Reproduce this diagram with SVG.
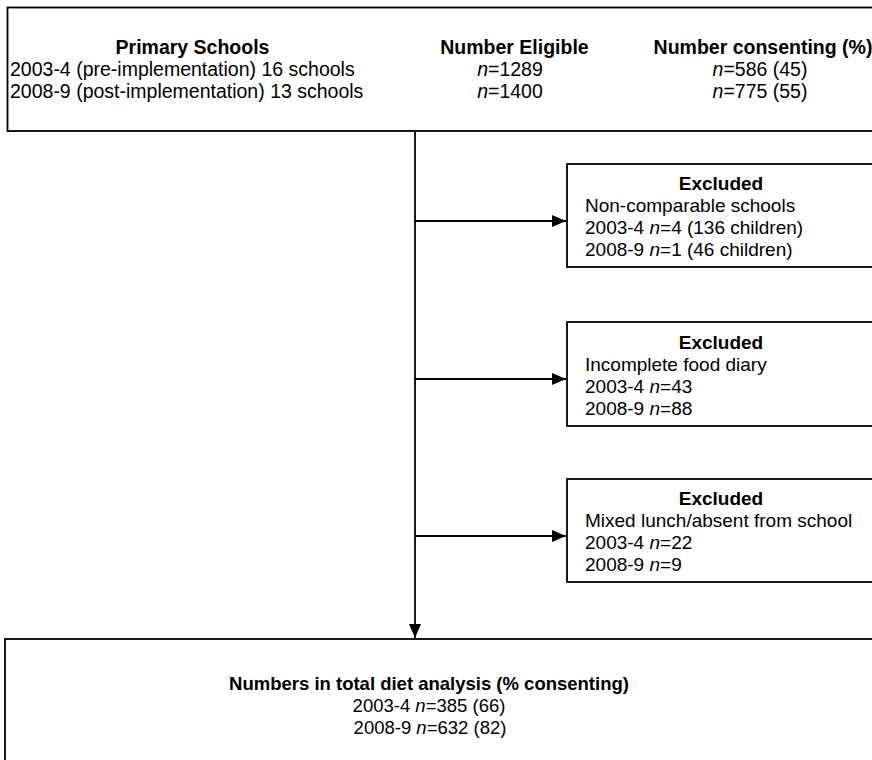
<svg xmlns="http://www.w3.org/2000/svg" width="872" height="760" viewBox="0 0 872 760">
<defs>
<marker id="ah" viewBox="0 0 14 12" refX="14" refY="6" markerWidth="14" markerHeight="12" markerUnits="userSpaceOnUse" orient="auto">
<path d="M0,0 L14,6 L0,12 Z" fill="#000"/>
</marker>
<style>
text{font-family:"Liberation Sans",Arial,sans-serif;fill:#000}
.t{font-size:19.5px}
.e{font-size:19px}
.b{font-weight:bold}
.m{text-anchor:middle}
.box{fill:#fff;stroke:#000;stroke-width:1.8}
.i{font-style:italic}
.ln{stroke:#000;stroke-width:1.8;fill:none}
</style>
</defs>
<rect width="872" height="760" fill="#fff"/>
<g id="top">
<rect class="box" x="7.5" y="7.5" width="880" height="123.5" stroke-width="2"/>
<text class="t b m" x="192.5" y="54">Primary Schools</text>
<text class="t" x="10" y="76">2003-4 (pre-implementation) 16 schools</text>
<text class="t" x="10" y="98">2008-9 (post-implementation) 13 schools</text>
<text class="t b m" x="514.5" y="54">Number Eligible</text>
<text class="t m" x="510" y="76"><tspan class="i">n</tspan>=1289</text>
<text class="t m" x="510" y="98"><tspan class="i">n</tspan>=1400</text>
<text class="t b m" x="763" y="54">Number consenting (%)</text>
<text class="t m" x="760" y="76"><tspan class="i">n</tspan>=586 (45)</text>
<text class="t m" x="760" y="98"><tspan class="i">n</tspan>=775 (55)</text>
</g>
<g id="ex1">
<rect class="box" x="567" y="164" width="320" height="103"/>
<text class="e b m" x="721" y="190">Excluded</text>
<text class="e" x="585" y="212">Non-comparable schools</text>
<text class="e" x="585" y="234">2003-4 <tspan class="i">n</tspan>=4 (136 children)</text>
<text class="e" x="585" y="256">2008-9 <tspan class="i">n</tspan>=1 (46 children)</text>
</g>
<g id="ex2">
<rect class="box" x="567" y="322" width="320" height="104"/>
<text class="e b m" x="721" y="349">Excluded</text>
<text class="e" x="585" y="371">Incomplete food diary</text>
<text class="e" x="585" y="393">2003-4 <tspan class="i">n</tspan>=43</text>
<text class="e" x="585" y="415">2008-9 <tspan class="i">n</tspan>=88</text>
</g>
<g id="ex3">
<rect class="box" x="567" y="479" width="320" height="103"/>
<text class="e b m" x="721" y="505">Excluded</text>
<text class="e" x="585" y="527">Mixed lunch/absent from school</text>
<text class="e" x="585" y="549">2003-4 <tspan class="i">n</tspan>=22</text>
<text class="e" x="585" y="571">2008-9 <tspan class="i">n</tspan>=9</text>
</g>
<g id="bottom">
<rect class="box" x="5" y="639" width="880" height="130" stroke-width="2"/>
<text class="b m" style="font-size:18.5px" x="429" y="690">Numbers in total diet analysis (% consenting)</text>
<text class="m" style="font-size:18.5px" x="429" y="712">2003-4 <tspan class="i">n</tspan>=385 (66)</text>
<text class="m" style="font-size:18.5px" x="430" y="734">2008-9 <tspan class="i">n</tspan>=632 (82)</text>
</g>
<g id="connectors">
<line class="ln" x1="415" y1="131" x2="415" y2="638" marker-end="url(#ah)"/>
<line class="ln" x1="415" y1="221" x2="566" y2="221" marker-end="url(#ah)"/>
<line class="ln" x1="415" y1="379" x2="566" y2="379" marker-end="url(#ah)"/>
<line class="ln" x1="415" y1="536" x2="566" y2="536" marker-end="url(#ah)"/>
</g>
</svg>
